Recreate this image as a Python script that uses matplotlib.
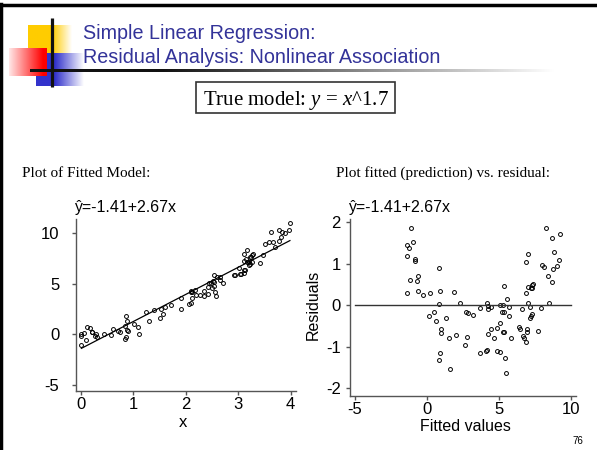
import numpy as np
import matplotlib.pyplot as plt
from matplotlib.colors import to_rgb

plt.rcParams['mathtext.fontset'] = 'custom'
plt.rcParams['mathtext.rm'] = 'Liberation Serif'
plt.rcParams['mathtext.it'] = 'Liberation Serif:italic'
plt.rcParams['axes.unicode_minus'] = False

# regression coefficients shown on the slide
b0 = -1.41
b1 = 2.67

# fitted values and residuals
fitted = [-1.13, -1.39, -1.27, -0.95, -1.39, -0.86, -0.83, -0.65, -0.72, -1.18,
          -1.39, -0.60, -0.25, 0.21, 0.86, 0.93, 0.81, 1.90, 2.29, 0.14,
          0.46, 0.60, 1.30, 0.95, 1.00, 1.50, 2.04, 0.90, 0.81, 1.57,
          2.69, 2.87, 3.17, 2.75, 2.62, 3.68, 3.68, 4.07, 4.19, 4.19,
          4.21, 4.26, 4.42, 4.26, 4.44, 4.65, 4.84, 5.07, 5.07, 4.84,
          5.09, 5.30, 5.23, 5.35, 5.25, 5.37, 5.37, 5.53, 5.67, 5.67,
          5.81, 5.44, 5.46, 6.41, 6.46, 6.62, 6.69, 6.76, 6.88, 6.92,
          6.97, 6.88, 6.90, 7.04, 6.99, 7.04, 7.15, 7.15, 7.22, 7.31,
          7.22, 7.31, 7.38, 7.27, 7.69, 7.89, 7.96, 8.15, 8.26, 8.40,
          8.50, 8.68, 8.68, 8.77, 8.82, 9.00, 9.19, 9.24]
resid = [1.85, 1.45, 1.37, 1.53, 1.18, 1.11, 1.06, 0.71, 0.58, 0.60,
         0.29, 0.33, 0.24, 0.28, 0.90, 0.34, 0.02, 0.31, 0.06, -0.26,
         -0.16, -0.39, -0.31, -0.58, -0.67, -0.80, -0.73, -1.16, -1.32, -1.53,
         -0.16, -0.20, -0.25, -0.77, -0.97, -0.06, -1.16, -1.10, -1.08, 0.06,
         -0.02, -0.10, -0.04, -0.70, -0.59, -0.80, -1.10, -1.14, -0.43, -0.55,
         0.00, 0.00, -0.18, -0.18, -0.64, -0.64, 0.46, 0.15, -0.05, -0.27,
         -0.80, -1.27, -1.65, -0.52, -0.57, -0.10, -0.74, -0.80, -0.88, -0.57,
         -0.64, 0.30, 1.04, 1.24, 0.43, 0.06, -0.04, -0.31, -0.27, -0.22,
         0.42, 0.48, 0.51, 0.40, -0.62, -0.06, 0.96, 0.91, 1.85, 0.71,
         0.06, 0.56, 1.61, 0.86, 1.28, 0.95, 1.08, 1.72]

fitted = np.array(fitted)
resid = np.array(resid)
x = (fitted - b0) / b1
y = fitted + resid

W, H = 597, 450
fig = plt.figure(figsize=(W / 100, H / 100), dpi=100)

# background axes in pixel coordinates for the slide decoration
bg = fig.add_axes([0, 0, 1, 1])
bg.set_xlim(0, W)
bg.set_ylim(H, 0)
bg.axis('off')


def hgrad(c1, c2, x0, x1, y0, y1, solid=0.0, reverse=False, z=1):
    n = 200
    t = np.linspace(0, 1, n)
    t = np.clip((t - solid) / (1 - solid), 0, 1)
    if reverse:
        t = t[::-1]
    a, b = np.array(to_rgb(c1)), np.array(to_rgb(c2))
    img = a[None, :] * (1 - t[:, None]) + b[None, :] * t[:, None]
    bg.imshow(img[None, :, :], extent=(x0, x1, y1, y0), aspect='auto',
              interpolation='bilinear', zorder=z)


hgrad('#FFCC00', '#FFFFFF', 28, 72, 25, 53, solid=0.55, z=1)
hgrad('#3333CC', '#FFFFFF', 36, 84, 53, 86, solid=0.4, z=2)
hgrad('#FF0000', '#FFE8E8', 9, 47, 48, 76, solid=0.1, reverse=True, z=3)
hgrad('#111111', '#FFFFFF', 30, 555, 69.5, 72.5, solid=0.25, z=4)
bg.plot([52, 52], [18, 87], color='#111111', lw=2.3, zorder=5, solid_capstyle='butt')

# slide frame
bg.plot([0, W], [4.5, 4.5], color='black', lw=2.5, zorder=6)
bg.plot([1.2, 1.2], [4, H], color='black', lw=2.5, zorder=6)

sans = 'Liberation Sans'
serif = 'Liberation Serif'
blue = '#333399'

bg.text(83, 39, 'Simple Linear Regression:', color=blue, fontsize=14.2,
        family=sans, va='baseline', zorder=7)
bg.text(83, 63, 'Residual Analysis: Nonlinear Association', color=blue,
        fontsize=14.2, family=sans, va='baseline', zorder=7)

bg.add_patch(plt.Rectangle((196, 82), 199, 31, fill=False, ec='#333333', lw=1.2, zorder=7))
bg.text(203, 105, 'True model: $\\mathit{y}$ = $\\mathit{x}$^1.7', fontsize=15,
        family=serif, va='baseline', zorder=7)

bg.text(22, 177, 'Plot of Fitted Model:', fontsize=11, family=serif, va='baseline')
bg.text(336, 177, 'Plot fitted (prediction) vs. residual:', fontsize=11,
        family=serif, va='baseline')

eq = '\u0177=-1.41+2.67x'
bg.text(75, 212, eq, fontsize=11.5, family=sans, va='baseline')
bg.text(349, 212, eq, fontsize=11.5, family=sans, va='baseline')

bg.text(183, 427, 'x', fontsize=12, family=sans, ha='center', va='baseline')
bg.text(465, 431, 'Fitted values', fontsize=11.5, family=sans, ha='center',
        va='baseline')
bg.text(313, 305, 'Residuals', fontsize=11.5, family=sans, ha='center', va='center',
        rotation=90)
bg.text(578, 441, '76', fontsize=7, family=sans, ha='center', va='center')


def frac(l, r, t, b):
    return [l / W, 1 - b / H, (r - l) / W, (b - t) / H]


def style(ax, ypad):
    for s in ['top', 'right']:
        ax.spines[s].set_visible(False)
    for s in ['left', 'bottom']:
        ax.spines[s].set_color('#555555')
        ax.spines[s].set_linewidth(1.0)
    ax.tick_params(direction='out', length=3, width=1, color='#555555',
                   labelsize=12)
    ax.tick_params(axis='x', pad=1.5)
    ax.tick_params(axis='y', pad=ypad)
    for lab in ax.get_xticklabels() + ax.get_yticklabels():
        lab.set_family(sans)
    ax.patch.set_alpha(0)


ax1 = fig.add_axes(frac(76, 296, 219, 391))
ax1.plot(x, y, 'o', ms=2.8, mfc='none', mec='black', mew=0.7)
xl = np.array([x.min(), x.max()])
ax1.plot(xl, b0 + b1 * xl, color='black', lw=0.9)
ax1.set_xlim(-0.096, 4.105)
ax1.set_ylim(-5.6, 11.37)
ax1.set_xticks([0, 1, 2, 3, 4])
ax1.set_yticks([-5, 0, 5, 10])
style(ax1, 9)

ax2 = fig.add_axes(frac(350, 576, 219.3, 395.7))
ax2.plot(fitted, resid, 'o', ms=2.8, mfc='none', mec='black', mew=0.7)
ax2.plot([-5, 10], [0, 0], color='#333333', lw=1.0)
ax2.set_xlim(-5.35, 10.35)
ax2.set_ylim(-2.185, 2.065)
ax2.set_xticks([-5, 0, 5, 10])
ax2.set_yticks([-2, -1, 0, 1, 2])
style(ax2, 3.5)

fig.savefig('out.png', dpi=100)
